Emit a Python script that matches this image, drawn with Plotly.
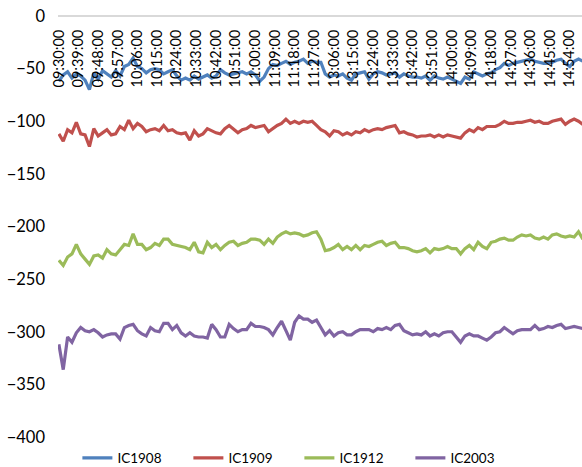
import pandas as pd
import plotly.graph_objects as go

# Category axis: one category per trading minute (morning + afternoon session)
am_minutes = pd.date_range("2020-01-01 09:30", "2020-01-01 11:30", freq="min")
pm_minutes = pd.date_range("2020-01-01 13:01", "2020-01-01 15:00", freq="min")
categories = [t.strftime("%H:%M:%S") for t in list(am_minutes) + list(pm_minutes)]

tick_labels = ["09:30:00", "09:39:00", "09:48:00", "09:57:00", "10:06:00", "10:15:00",
               "10:24:00", "10:33:00", "10:42:00", "10:51:00", "11:00:00", "11:09:00",
               "11:18:00", "11:27:00", "13:06:00", "13:15:00", "13:24:00", "13:33:00",
               "13:42:00", "13:51:00", "14:00:00", "14:09:00", "14:18:00", "14:27:00",
               "14:36:00", "14:45:00", "14:54:00"]

# sampled every 2 minutes
sample_times = categories[::2]

ic1908_am = [-62, -56, -53, -59, -55, -57, -61, -70, -54, -60, -52, -55, -58, -52, -57, -48,
             -46, -40, -48, -50, -54, -51, -50, -51, -55, -53, -51, -57, -61, -59, -61, -57,
             -60, -58, -56, -59, -57, -51, -54, -56, -55, -54, -53, -55, -53, -56, -62, -58,
             -50, -46, -47, -45, -43, -46, -44, -43, -41, -45, -43, -44, -44]
ic1908_pm = [-55, -58, -56, -57, -55, -59, -61, -55, -54, -53, -60, -55, -53, -54, -56, -55,
             -54, -58, -55, -57, -58, -58, -59, -57, -61, -57, -59, -60, -58, -60, -62, -64,
             -58, -60, -53, -55, -57, -55, -54, -51, -49, -45, -47, -45, -44, -43, -42, -41,
             -43, -44, -45, -45, -44, -42, -41, -45, -48, -43, -41, -43]

ic1909_am = [-112, -119, -108, -111, -101, -112, -113, -124, -107, -114, -111, -108, -113, -112,
             -105, -108, -99, -107, -102, -105, -110, -108, -107, -109, -104, -109, -108, -111,
             -112, -111, -118, -109, -114, -112, -107, -109, -111, -112, -107, -104, -108, -111,
             -108, -107, -104, -106, -105, -104, -110, -107, -104, -102, -98, -102, -100, -102,
             -100, -101, -100, -104, -108]
ic1909_pm = [-110, -114, -109, -110, -113, -111, -113, -110, -111, -108, -110, -108, -107, -108,
             -106, -105, -104, -111, -110, -112, -113, -115, -114, -114, -113, -115, -113, -115,
             -113, -114, -115, -116, -111, -108, -110, -106, -108, -105, -105, -105, -103, -100,
             -102, -102, -101, -101, -100, -99, -101, -100, -102, -102, -100, -99, -98, -103,
             -100, -98, -100, -103]

ic1912_am = [-232, -237, -229, -226, -217, -226, -231, -236, -228, -227, -230, -222, -226, -227,
             -222, -217, -218, -207, -217, -217, -222, -220, -216, -218, -212, -212, -217, -218,
             -219, -220, -222, -215, -224, -225, -215, -220, -217, -222, -218, -215, -214, -218,
             -216, -215, -212, -212, -213, -217, -212, -216, -210, -207, -205, -207, -206, -207,
             -209, -208, -206, -205, -212]
ic1912_pm = [-223, -222, -220, -217, -222, -219, -222, -218, -222, -218, -219, -217, -215, -214,
             -218, -216, -215, -220, -220, -221, -223, -224, -223, -221, -225, -221, -222, -221,
             -219, -221, -221, -226, -221, -218, -222, -215, -219, -221, -215, -214, -212, -211,
             -213, -213, -210, -208, -209, -208, -211, -212, -210, -212, -208, -207, -209, -210,
             -209, -210, -205, -212]

ic2003_am = [-312, -336, -305, -310, -301, -296, -299, -300, -298, -301, -305, -303, -302, -302,
             -307, -296, -294, -293, -299, -302, -304, -296, -299, -300, -292, -292, -298, -294,
             -301, -304, -301, -304, -305, -305, -306, -293, -298, -305, -305, -293, -297, -300,
             -298, -298, -292, -295, -295, -296, -298, -303, -296, -290, -299, -308, -291, -285,
             -288, -288, -291, -289, -296]
ic2003_pm = [-303, -299, -304, -301, -300, -303, -303, -300, -298, -298, -298, -300, -297, -298,
             -296, -298, -294, -293, -299, -301, -303, -302, -303, -300, -304, -302, -304, -301,
             -300, -300, -305, -310, -304, -302, -304, -304, -306, -308, -305, -301, -300, -296,
             -299, -302, -299, -298, -298, -298, -294, -298, -297, -295, -296, -294, -293, -297,
             -296, -295, -296, -297]

series = [
    ("IC1908", ic1908_am + ic1908_pm, "#4F81BD"),
    ("IC1909", ic1909_am + ic1909_pm, "#C0504D"),
    ("IC1912", ic1912_am + ic1912_pm, "#9BBB59"),
    ("IC2003", ic2003_am + ic2003_pm, "#8064A2"),
]

FONT = "Lato, 'Open Sans', sans-serif"

fig = go.Figure()
for name, vals, color in series:
    fig.add_trace(go.Scatter(
        x=sample_times, y=vals, name=name, mode="lines",
        line=dict(color=color, width=3.2),
    ))

fig.update_layout(
    width=582, height=467,
    margin=dict(l=58, r=0, t=16, b=30, autoexpand=False),
    paper_bgcolor="white", plot_bgcolor="white",
    font=dict(family=FONT, size=14, color="#000000"),
    showlegend=True,
    legend=dict(orientation="h", x=0.037, xanchor="left", y=-0.05, yanchor="middle",
                entrywidth=66, entrywidthmode="pixels",
                font=dict(family=FONT, size=13.5, color="#000000"),
                bgcolor="rgba(0,0,0,0)"),
)

# category axis crosses the value axis at 0 (top of plot) with labels hanging below it
fig.update_xaxes(
    type="category", categoryorder="array", categoryarray=categories,
    range=[-0.4, len(categories) - 1.4],
    tickmode="array", tickvals=tick_labels, ticktext=tick_labels,
    anchor="free", position=1, side="bottom", tickangle=-90,
    showline=True, linecolor="#d9d9d9", linewidth=2,
    showgrid=False, zeroline=False, ticks="", ticklabelstandoff=7,
    automargin=False,
    tickfont=dict(family=FONT, size=14.5, color="#000000"),
)

fig.update_yaxes(
    range=[-400, 0], tickmode="array", tickvals=list(range(-400, 1, 50)),
    showgrid=False, zeroline=False, showline=False, ticks="",
    ticklabelstandoff=12, automargin=False,
    tickfont=dict(family=FONT, size=16.5, color="#000000"),
)

fig.write_html("out.html", config={"displayModeBar": False},
               post_script="document.body.style.margin='0px';")
